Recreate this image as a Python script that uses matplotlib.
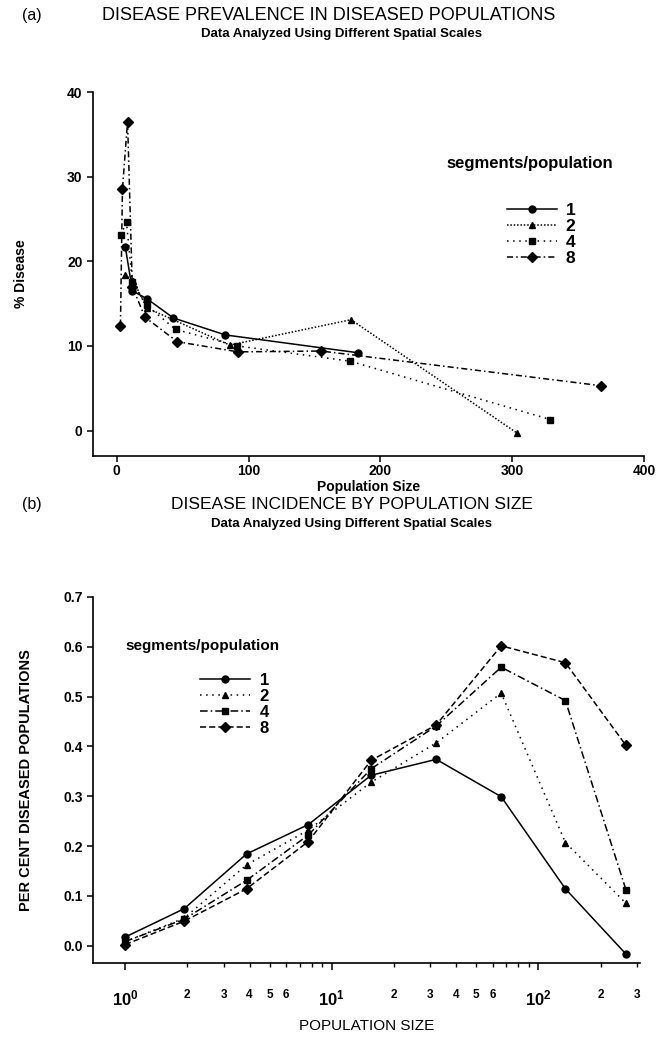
# Disease prevalence / incidence vs population size, two panels
# values

import numpy as np
import matplotlib.pyplot as plt
from matplotlib.ticker import FixedLocator, FuncFormatter

plt.rcParams['font.family'] = ['Liberation Sans', 'DejaVu Sans']
plt.rcParams['mathtext.fontset'] = 'custom'
plt.rcParams['mathtext.rm'] = 'Liberation Sans'
plt.rcParams['mathtext.bf'] = 'Liberation Sans:bold'

seg_labels = ['1', '2', '4', '8']

# (a) % disease by population size
a_x1 = [6.5, 11.9, 22.7, 43, 82.4, 182.8]
a_y1 = [21.7, 16.5, 15.6, 13.3, 11.3, 9.2]
a_x2 = [6.0, 12.6, 22.7, 85.7, 177.7, 303.7]
a_y2 = [18.4, 17.7, 14.5, 10.1, 13.1, -0.3]
a_x4 = [3.0, 7.4, 11.8, 22.7, 44.6, 91.5, 177, 329]
a_y4 = [23.1, 24.6, 17.5, 14.8, 11.95, 10.0, 8.2, 1.3]
a_x8 = [2.8, 4.3, 8.2, 11.8, 21.4, 45.9, 92, 155, 367.5]
a_y8 = [12.4, 28.5, 36.5, 17.0, 13.4, 10.5, 9.3, 9.4, 5.3]

# (b) incidence by population size class
b_x = [1, 1.93, 3.87, 7.7, 15.5, 32, 66, 135, 265]
b_y1 = [0.017, 0.074, 0.184, 0.243, 0.342, 0.374, 0.299, 0.114, -0.017]
b_y2 = [0.008, 0.055, 0.162, 0.232, 0.328, 0.407, 0.507, 0.207, 0.085]
b_y4 = [0.008, 0.053, 0.131, 0.222, 0.355, 0.441, 0.559, 0.492, 0.112]
b_y8 = [0.002, 0.049, 0.114, 0.209, 0.372, 0.443, 0.602, 0.568, 0.402]

markers = ['o', '^', 's', 'D']
msizes = [5, 5, 5, 5.5]
styles_a = ['-', (0, (1, 1.2)), (0, (1, 3)), (0, (4, 2, 1, 2))]
styles_b = ['-', (0, (1, 3)), (0, (5, 2, 1, 2)), (0, (4, 2))]

fig = plt.figure(figsize=(6.57, 10.47), dpi=100)


def style_axes(ax):
    for s in ['top', 'right']:
        ax.spines[s].set_visible(False)
    ax.spines['left'].set_linewidth(1.2)
    ax.spines['bottom'].set_linewidth(1.2)
    ax.tick_params(direction='out', width=1.1, length=4, labelsize=10)
    for lab in ax.get_xticklabels() + ax.get_yticklabels():
        lab.set_fontweight('bold')


# ---- panel (a)
ax1 = fig.add_axes([0.1416, 0.5645, 0.8387, 0.3476])
a_x = [a_x1, a_x2, a_x4, a_x8]
a_y = [a_y1, a_y2, a_y4, a_y8]
handles = []
for i in range(4):
    h, = ax1.plot(a_x[i], a_y[i], color='black', lw=1.1, linestyle=styles_a[i],
                  marker=markers[i], ms=msizes[i], label=seg_labels[i])
    handles.append(h)
ax1.set_xlim(-18, 400)
ax1.set_ylim(-3, 40)
ax1.set_xticks([0, 100, 200, 300, 400])
ax1.set_yticks([0, 10, 20, 30, 40])
style_axes(ax1)
ax1.tick_params(axis='x', pad=2)
ax1.set_xlabel('Population Size', fontsize=10, fontweight='bold', labelpad=1)
ax1.set_ylabel('% Disease', fontsize=10, fontweight='bold', labelpad=28)
ax1.text(0.793, 0.79, 'segments/population', transform=ax1.transAxes,
         fontsize=12, fontweight='bold', ha='center')
leg1 = ax1.legend(handles=handles, loc='upper left', bbox_to_anchor=(0.735, 0.72),
                  frameon=False, handlelength=2.9, handletextpad=0.5,
                  labelspacing=0.05, fontsize=12.5, borderpad=0)
for t in leg1.get_texts():
    t.set_fontweight('bold')

fig.text(0.033, 0.985, '(a)', fontsize=11.5, va='center')
fig.text(0.5, 0.985, 'DISEASE PREVALENCE IN DISEASED POPULATIONS', fontsize=13,
         ha='center', va='center')
fig.text(0.52, 0.968, 'Data Analyzed Using Different Spatial Scales', fontsize=9.5,
         ha='center', va='center', fontweight='bold')

# ---- panel (b)
ax2 = fig.add_axes([0.1416, 0.0802, 0.8326, 0.3496])
b_y = [b_y1, b_y2, b_y4, b_y8]
handles = []
for i in range(4):
    h, = ax2.plot(b_x, b_y[i], color='black', lw=1.1, linestyle=styles_b[i],
                  marker=markers[i], ms=msizes[i], label=seg_labels[i])
    handles.append(h)
ax2.set_xscale('log')
ax2.set_xlim(0.7, 310)
ax2.set_ylim(-0.035, 0.7)
ax2.set_yticks([0.0, 0.1, 0.2, 0.3, 0.4, 0.5, 0.6, 0.7])
ax2.yaxis.set_major_formatter(FuncFormatter(lambda v, p: '%.1f' % v))
ax2.xaxis.set_major_locator(FixedLocator([1, 10, 100]))
ax2.xaxis.set_major_formatter(FuncFormatter(
    lambda v, p: r'$\mathbf{10^{%d}}$' % int(round(np.log10(v)))))
minors = [m * d for d in [1, 10, 100] for m in range(2, 10)]
ax2.xaxis.set_minor_locator(FixedLocator(minors))


def minor_fmt(v, p):
    m = int(round(v / 10 ** np.floor(np.log10(v) + 1e-9)))
    return str(m) if m <= 6 else ''


ax2.xaxis.set_minor_formatter(FuncFormatter(minor_fmt))
style_axes(ax2)
ax2.tick_params(axis='x', which='major', labelsize=12, length=5, pad=13)
ax2.tick_params(axis='x', which='minor', labelsize=8.5, length=3, width=1, pad=16)
for lab in ax2.get_xticklabels(minor=True):
    lab.set_fontweight('bold')
ax2.set_xlabel('POPULATION SIZE', fontsize=11, labelpad=8)
ax2.set_ylabel('PER CENT DISEASED POPULATIONS', fontsize=10.5, fontweight='bold',
               labelpad=22)
ax2.text(0.06, 0.855, 'segments/population', transform=ax2.transAxes,
         fontsize=11, fontweight='bold', ha='left')
leg2 = ax2.legend(handles=handles, loc='upper left', bbox_to_anchor=(0.18, 0.815),
                  frameon=False, handlelength=3.0, handletextpad=0.6,
                  labelspacing=0.05, fontsize=12, borderpad=0)
for t in leg2.get_texts():
    t.set_fontweight('bold')

fig.text(0.033, 0.518, '(b)', fontsize=11.5, va='center')
fig.text(0.535, 0.518, 'DISEASE INCIDENCE BY POPULATION SIZE', fontsize=12.5,
         ha='center', va='center')
fig.text(0.535, 0.5, 'Data Analyzed Using Different Spatial Scales', fontsize=9.5,
         ha='center', va='center', fontweight='bold')

fig.savefig('out.png', dpi=100)
